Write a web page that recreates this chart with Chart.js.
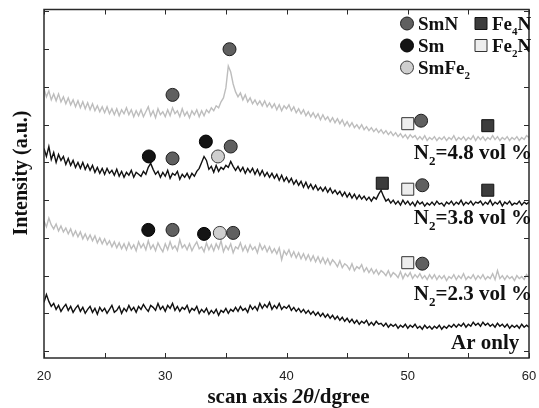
<!DOCTYPE html>
<html>
<head>
<meta charset="utf-8">
<script src="https://cdn.jsdelivr.net/npm/chart.js@4.4.1/dist/chart.umd.min.js"></script>
<style>
  html, body { margin: 0; padding: 0; background: #fff; }
  #wrap { width: 539px; height: 408px; position: relative; }
</style>
</head>
<body>
<div id="wrap"><canvas id="xrd"></canvas></div>
<script>
// scan grid: 20..60 deg, 0.2 deg step
const scanStart = 20, scanStep = 0.2;

// intensities (arbitrary units, stacked offsets included)
const arOnly = [
  56,64,57,52,55, 49,53,47,51,54, 48,52,46,50,53, 47,51,45,49,52, 46,50,44,51,47,
  50,45,49,53,46, 48,52,45,50,47, 53,48,51,46,52, 49,54,50,47,53, 51,48,55,49,52,
  47,53,50,55,48, 52,47,51,49,53, 46,50,48,52,45, 49,46,50,44,48, 45,49,43,48,46,
  50,45,49,47,51, 47,52,48,50,46, 53,49,52,48,55, 50,54,51,56,49, 53,50,55,49,52,
  50,53,48,51,47, 50,46,49,45,48, 44,47,43,46,42, 45,41,44,40,43, 39,42,38,41,37,
  40,36,39,35,38, 34,37,35,38,33, 36,33,37,34,35, 32,35,31,34,32, 34,30,33,31,34,
  30,33,31,34,30, 32,29,33,30,32, 29,32,30,33,29, 32,30,33,31,34, 31,34,32,35,31,
  34,32,36,33,35, 32,36,33,35,32, 34,31,35,32,34, 31,34,30,33,31, 33,30,34,31,33,
  31
];
const n2_23 = [
  138,132,141,134,130, 135,128,133,127,131, 125,130,123,128,122, 127,120,125,119,124, 118,123,116,121,115,
  120,114,118,112,117, 111,116,110,115,109, 116,110,114,108,117, 111,115,109,118,110, 114,108,116,111,107,
  115,109,117,110,113, 108,119,111,114,109, 115,108,113,117,110, 112,107,116,109,114, 108,115,110,118,107,
  113,109,115,106,112, 110,116,108,113,107, 114,109,112,106,115, 109,113,107,112,106, 110,105,111,99,108,
  104,109,102,107,101, 106,100,105,99,104, 98,103,97,102,96, 101,95,100,94,99, 96,92,98,91,95,
  93,89,95,88,92, 90,94,87,91,86, 90,85,89,84,88, 86,83,88,82,86, 84,81,87,80,85,
  82,86,80,84,81, 85,80,83,79,84, 80,84,79,83,80, 83,78,82,80,84, 79,83,80,85,79,
  82,80,84,79,83, 80,84,79,82,80, 85,79,88,80,83, 79,83,80,82,78, 83,80,82,79,84,
  81
];
const n2_38 = [
  211,203,213,200,207, 197,205,199,203,195, 201,194,199,192,197, 191,197,190,195,189, 194,187,192,186,191,
  185,191,186,189,184, 190,183,188,182,187, 184,189,182,187,185, 183,188,185,192,196, 190,185,188,182,187,
  183,189,181,186,184, 188,180,185,182,186, 181,186,183,188,191, 197,203,199,190,193, 187,194,188,192,190,
  194,192,198,193,189, 193,188,192,186,191, 187,191,185,190,184, 189,183,187,182,186, 181,185,179,184,178,
  182,177,181,175,179, 174,178,172,177,171, 175,170,174,169,172, 168,172,167,171,166, 169,165,168,163,167,
  162,166,161,165,160, 164,160,163,159,162, 158,162,160,165,169, 163,158,160,156,159, 155,158,154,159,155,
  158,154,157,153,158, 155,157,153,156,154, 157,154,158,155,156, 153,157,155,158,154, 157,155,159,154,157,
  155,158,154,157,156, 158,154,157,155,159, 154,157,155,158,153, 157,155,158,154,156, 155,158,154,157,155,
  157
];
const n2_48 = [
  271,263,269,260,266, 259,266,258,263,256, 262,255,260,253,259, 252,258,251,257,250, 256,249,254,248,253,
  247,253,246,251,245, 251,244,250,246,252, 245,250,243,249,244, 250,243,248,253,244, 249,242,251,245,248,
  243,250,244,252,246, 249,243,251,244,248, 242,249,245,250,243, 249,244,250,247,252, 249,254,252,258,262,
  272,294,288,276,268, 263,267,260,265,258, 262,256,260,255,259, 254,259,253,257,252, 256,250,255,249,254,
  251,255,249,253,247, 251,246,250,244,248, 243,247,242,246,240, 245,240,243,238,242, 237,241,236,240,234,
  238,233,237,232,235, 231,235,230,233,229, 232,228,231,227,230, 226,229,225,228,224, 227,223,226,222,225,
  221,225,222,224,220, 223,220,224,219,222, 220,223,219,222,220, 223,219,222,220,224, 219,222,220,223,219,
  222,220,224,219,223, 220,223,219,222,220, 224,220,223,219,222, 220,223,219,222,220, 223,219,222,220,224,
  222
];

// phase markers [2theta, height]
const smnPeaks   = [[30.6,265],[35.3,311],[51.1,239],[30.6,201],[35.4,213],[51.2,174],[30.6,129],[35.6,126],[51.2,95]];
const smPeaks    = [[28.65,203],[33.35,218],[28.6,129],[33.2,125]];
const smfe2Peaks = [[34.35,203],[34.5,126]];
const fe4nPeaks  = [[56.6,234],[47.9,176],[56.6,169]];
const fe2nPeaks  = [[50.0,236],[50.0,170],[50.0,96]];

const xTicks = [20,25,30,35,40,45,50,55,60];
const xTickLabels = [20,30,40,50,60];
const yTicks = [7,45,83,121,159,197,235,273,311,349];

const traceNames = [
  { main: 'N', sub: '2', rest: '=4.8 vol %', y: 200, right: 60.25 },
  { main: 'N', sub: '2', rest: '=3.8 vol %', y: 135, right: 60.25 },
  { main: 'N', sub: '2', rest: '=2.3 vol %', y: 58,  right: 60.25 },
  { main: 'Ar only', sub: '', rest: '', y: 9, right: 59.2 }
];

const phases = {
  SmN:   { style: 'circle', fill: '#606060', border: '#1e1e1e' },
  Sm:    { style: 'circle', fill: '#141414', border: '#000000' },
  SmFe2: { style: 'circle', fill: '#cfcfcf', border: '#3a3a3a' },
  Fe4N:  { style: 'rect',   fill: '#3c3c3c', border: '#111111' },
  Fe2N:  { style: 'rect',   fill: '#ededed', border: '#333333' }
};

const SERIF = '"Liberation Serif", "Times New Roman", serif';
const SANS = '"Liberation Sans", Arial, sans-serif';

function toXY(arr) {
  return arr.map((v, i) => ({ x: scanStart + i * scanStep, y: v }));
}
function toPts(arr) {
  return arr.map(p => ({ x: p[0], y: p[1] }));
}
function trace(data, color) {
  return { type: 'line', data: toXY(data), borderColor: color, borderWidth: 1.4,
           pointRadius: 0, tension: 0, order: 5 };
}
function marks(pts, ph) {
  const p = phases[ph];
  return { type: 'scatter', data: toPts(pts), pointStyle: p.style,
           pointRadius: p.style === 'rect' ? 8.5 : 6.5, pointBorderWidth: 1,
           backgroundColor: p.fill, borderColor: p.border, order: 1 };
}

function marker(ctx, style, x, y, fill, border) {
  ctx.save();
  ctx.fillStyle = fill; ctx.strokeStyle = border; ctx.lineWidth = 1;
  ctx.beginPath();
  if (style === 'circle') ctx.arc(x, y, 6.5, 0, Math.PI * 2);
  else ctx.rect(x - 6, y - 6, 12, 12);
  ctx.fill(); ctx.stroke();
  ctx.restore();
}

// text with optional subscript: parts = [[text, isSub], ...]
function subText(ctx, parts, x, y, size) {
  let cx = x;
  parts.forEach(([t, sub]) => {
    ctx.font = 'bold ' + (sub ? Math.round(size * 0.6) : size) + 'px ' + SERIF;
    ctx.fillText(t, cx, sub ? y + size * 0.28 : y);
    cx += ctx.measureText(t).width;
  });
  return cx - x;
}
function subWidth(ctx, parts, size) {
  let w = 0;
  parts.forEach(([t, sub]) => {
    ctx.font = 'bold ' + (sub ? Math.round(size * 0.6) : size) + 'px ' + SERIF;
    w += ctx.measureText(t).width;
  });
  return w;
}

const decor = {
  id: 'decor',
  afterDraw(chart) {
    const { ctx, chartArea: a, scales: { x, y } } = chart;
    ctx.save();
    ctx.strokeStyle = '#2a2a2a';
    ctx.lineWidth = 1.5;
    ctx.strokeRect(a.left, a.top, a.right - a.left, a.bottom - a.top);

    ctx.lineWidth = 1;
    ctx.beginPath();
    xTicks.forEach(t => {
      const px = Math.round(x.getPixelForValue(t)) + 0.5;
      ctx.moveTo(px, a.bottom); ctx.lineTo(px, a.bottom - 5);
      ctx.moveTo(px, a.top); ctx.lineTo(px, a.top + 5);
    });
    yTicks.forEach(t => {
      const py = Math.round(y.getPixelForValue(t)) + 0.5;
      ctx.moveTo(a.left, py); ctx.lineTo(a.left + 5, py);
      ctx.moveTo(a.right, py); ctx.lineTo(a.right - 5, py);
    });
    ctx.stroke();

    // x tick labels
    ctx.fillStyle = '#222';
    ctx.font = '13px ' + SANS;
    ctx.textAlign = 'center';
    ctx.textBaseline = 'middle';
    xTickLabels.forEach(t => ctx.fillText(String(t), x.getPixelForValue(t), a.bottom + 18));

    // x title with italic 2theta
    ctx.textAlign = 'left';
    ctx.textBaseline = 'alphabetic';
    ctx.fillStyle = '#111';
    const tParts = [['scan axis ', 'bold 21px ' + SERIF], ['2\u03B8', 'italic bold 21px ' + SERIF], ['/dgree', 'bold 21px ' + SERIF]];
    let tw = 0;
    tParts.forEach(([s, f]) => { ctx.font = f; tw += ctx.measureText(s).width; });
    let tx = (a.left + a.right) / 2 + 2 - tw / 2;
    tParts.forEach(([s, f]) => { ctx.font = f; ctx.fillText(s, tx, 403); tx += ctx.measureText(s).width; });

    // y title
    ctx.save();
    ctx.translate(27, 173);
    ctx.rotate(-Math.PI / 2);
    ctx.textAlign = 'center';
    ctx.font = 'bold 20px ' + SERIF;
    ctx.fillText('Intensity (a.u.)', 0, 0);
    ctx.restore();

    // trace names
    ctx.textAlign = 'left';
    traceNames.forEach(n => {
      const parts = [[n.main, false]];
      if (n.sub) parts.push([n.sub, true]);
      if (n.rest) parts.push([n.rest, false]);
      const w = subWidth(ctx, parts, 21);
      subText(ctx, parts, x.getPixelForValue(n.right) - w, y.getPixelForValue(n.y), 21);
    });

    // legend
    const lx1 = a.left + 363, lx2 = a.left + 437;
    const rows = [a.top + 14, a.top + 36, a.top + 58];
    const legend = [
      ['SmN', lx1, rows[0], [['SmN', false]]],
      ['Sm', lx1, rows[1], [['Sm', false]]],
      ['SmFe2', lx1, rows[2], [['SmFe', false], ['2', true]]],
      ['Fe4N', lx2, rows[0], [['Fe', false], ['4', true], ['N', false]]],
      ['Fe2N', lx2, rows[1], [['Fe', false], ['2', true], ['N', false]]]
    ];
    legend.forEach(([ph, lx, ly, parts]) => {
      const p = phases[ph];
      marker(ctx, p.style, lx, ly, p.fill, p.border);
      ctx.fillStyle = '#111';
      subText(ctx, parts, lx + 11, ly + 6, 19);
    });
    ctx.restore();
  }
};

new Chart(document.getElementById('xrd'), {
  type: 'line',
  data: {
    datasets: [
      marks(smnPeaks, 'SmN'),
      marks(smPeaks, 'Sm'),
      marks(smfe2Peaks, 'SmFe2'),
      marks(fe4nPeaks, 'Fe4N'),
      marks(fe2nPeaks, 'Fe2N'),
      trace(n2_48, '#bdbdbd'),
      trace(n2_38, '#111111'),
      trace(n2_23, '#bdbdbd'),
      trace(arOnly, '#111111')
    ]
  },
  options: {
    responsive: true,
    maintainAspectRatio: false,
    animation: false,
    layout: { padding: { left: 44, right: 10, top: 7, bottom: 50 } },
    plugins: { legend: { display: false }, tooltip: { enabled: false } },
    scales: {
      x: { type: 'linear', min: 20, max: 60, display: false },
      y: { type: 'linear', min: 0, max: 351, display: false }
    }
  },
  plugins: [decor]
});
</script>
</body>
</html>
